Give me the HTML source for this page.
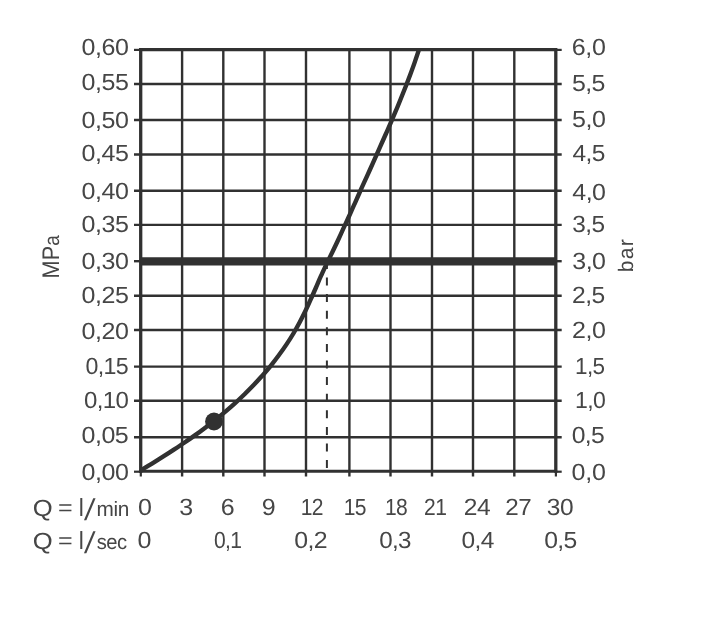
<!DOCTYPE html>
<html lang="en"><head><meta charset="utf-8"><title>Flow diagram</title>
<style>
html,body{margin:0;padding:0;background:#fff;}
svg{display:block;}
text{font-family:"Liberation Sans",sans-serif;fill:#464646;font-kerning:none;text-rendering:geometricPrecision;}
</style></head><body>
<svg width="707" height="630" viewBox="0 0 707 630">
<rect width="707" height="630" fill="#fff"/>

<g stroke="#313131" stroke-width="2.4" fill="none">
<line x1="182.10" y1="49.90" x2="182.10" y2="476.50"/>
<line x1="223.30" y1="49.90" x2="223.30" y2="476.50"/>
<line x1="264.50" y1="49.90" x2="264.50" y2="476.50"/>
<line x1="306.00" y1="49.90" x2="306.00" y2="476.50"/>
<line x1="349.40" y1="49.90" x2="349.40" y2="476.50"/>
<line x1="390.50" y1="49.90" x2="390.50" y2="476.50"/>
<line x1="432.00" y1="49.90" x2="432.00" y2="476.50"/>
<line x1="473.00" y1="49.90" x2="473.00" y2="476.50"/>
<line x1="514.30" y1="49.90" x2="514.30" y2="476.50"/>
<line x1="134.00" y1="84.00" x2="561.70" y2="84.00"/>
<line x1="134.00" y1="120.05" x2="561.70" y2="120.05"/>
<line x1="134.00" y1="154.50" x2="561.70" y2="154.50"/>
<line x1="134.00" y1="190.70" x2="561.70" y2="190.70"/>
<line x1="134.00" y1="224.90" x2="561.70" y2="224.90"/>
<line x1="134.00" y1="295.70" x2="561.70" y2="295.70"/>
<line x1="134.00" y1="330.05" x2="561.70" y2="330.05"/>
<line x1="134.00" y1="366.60" x2="561.70" y2="366.60"/>
<line x1="134.00" y1="400.70" x2="561.70" y2="400.70"/>
<line x1="134.00" y1="437.20" x2="561.70" y2="437.20"/>
</g>
<g stroke="#313131" fill="none">
<line x1="139.00" y1="49.60" x2="557.10" y2="49.60" stroke-width="3.1"/>
<line x1="139.00" y1="471.30" x2="557.10" y2="471.30" stroke-width="3.0"/>
<line x1="140.70" y1="48.30" x2="140.70" y2="472.70" stroke-width="3.3"/>
<line x1="555.80" y1="48.30" x2="555.80" y2="472.70" stroke-width="3.3"/>
<line x1="134.00" y1="49.90" x2="140.50" y2="49.90" stroke-width="2.2"/>
<line x1="555.60" y1="49.90" x2="561.70" y2="49.90" stroke-width="2.2"/>
<line x1="134.00" y1="471.70" x2="140.50" y2="471.70" stroke-width="2.2"/>
<line x1="555.60" y1="471.70" x2="561.70" y2="471.70" stroke-width="2.2"/>
<line x1="140.80" y1="471.30" x2="140.80" y2="476.50" stroke-width="2.2"/>
<line x1="555.90" y1="471.30" x2="555.90" y2="476.50" stroke-width="2.2"/>
<line x1="134.00" y1="261.20" x2="140.50" y2="261.20" stroke-width="2.4"/>
<line x1="555.60" y1="261.20" x2="561.70" y2="261.20" stroke-width="2.4"/>
<line x1="140.50" y1="261.40" x2="555.60" y2="261.40" stroke-width="8.3"/>
<line x1="326.9" y1="260.9" x2="326.9" y2="471" stroke-width="2.0" stroke-dasharray="8 8.6"/>
<clipPath id="plot"><rect x="140.50" y="49.50" width="415.10" height="423.20"/></clipPath>
<path d="M137.6 472.4 C138.2 472.0 138.6 471.8 141.0 470.3 C143.4 468.8 148.3 465.9 152.0 463.6 C155.7 461.3 159.3 459.0 163.0 456.7 C166.7 454.4 170.3 452.1 173.9 449.7 C177.5 447.3 181.1 444.9 184.6 442.5 C188.1 440.1 191.7 437.6 195.2 435.1 C198.7 432.6 202.2 430.0 205.6 427.4 C209.0 424.8 212.3 422.2 215.7 419.5 C219.0 416.8 222.4 414.2 225.7 411.4 C229.0 408.6 232.2 405.8 235.4 402.9 C238.6 400.0 241.7 397.0 244.8 394.0 C247.9 391.0 250.9 387.9 253.9 384.8 C256.9 381.7 259.8 378.4 262.7 375.2 C265.6 371.9 268.4 368.7 271.1 365.3 C273.8 361.9 276.4 358.5 279.0 355.0 C281.6 351.5 284.1 348.0 286.5 344.4 C288.9 340.8 291.2 337.2 293.4 333.5 C295.6 329.8 297.7 326.1 299.7 322.3 C301.7 318.5 303.6 314.7 305.5 310.8 C307.4 306.9 309.1 303.1 310.8 299.2 C312.6 295.3 314.3 291.4 316.0 287.5 C317.7 283.6 319.3 279.6 321.1 275.7 C322.9 271.8 324.7 267.8 326.6 263.9 C328.5 260.0 330.4 256.1 332.3 252.2 C334.2 248.3 336.1 244.4 337.9 240.5 C339.7 236.6 341.5 232.6 343.3 228.7 C345.1 224.8 346.9 220.9 348.7 217.0 C350.5 213.1 352.2 209.1 354.0 205.2 C355.8 201.3 357.4 197.4 359.2 193.5 C360.9 189.6 362.7 185.6 364.5 181.7 C366.3 177.8 368.0 173.9 369.8 170.0 C371.6 166.1 373.4 162.1 375.1 158.2 C376.9 154.2 378.6 150.2 380.3 146.3 C382.1 142.4 383.9 138.4 385.6 134.5 C387.4 130.6 389.1 126.6 390.8 122.6 C392.5 118.6 394.2 114.7 395.9 110.7 C397.6 106.7 399.2 102.7 400.8 98.7 C402.4 94.7 404.0 90.7 405.6 86.7 C407.2 82.7 408.7 78.7 410.2 74.7 C411.7 70.7 413.2 66.7 414.6 62.6 C416.0 58.5 417.8 53.2 418.7 50.4 C419.6 47.6 419.9 46.5 420.2 45.7" stroke-width="4.4" stroke-linecap="butt" clip-path="url(#plot)"/>
</g>
<circle cx="214.0" cy="421.5" r="8.9" fill="#313131"/>
<g font-size="23.4">
<text transform="translate(81.62 55.45) scale(1.070 1)" letter-spacing="-0.43">0,60</text>
<text transform="translate(81.62 90.35) scale(1.070 1)" letter-spacing="-0.41">0,55</text>
<text transform="translate(81.62 128.05) scale(1.070 1)" letter-spacing="-0.43">0,50</text>
<text transform="translate(81.62 161.35) scale(1.070 1)" letter-spacing="-0.41">0,45</text>
<text transform="translate(81.62 199.15) scale(1.070 1)" letter-spacing="-0.43">0,40</text>
<text transform="translate(81.62 232.35) scale(1.070 1)" letter-spacing="-0.41">0,35</text>
<text transform="translate(81.62 269.35) scale(1.070 1)" letter-spacing="-0.43">0,30</text>
<text transform="translate(81.62 303.05) scale(1.070 1)" letter-spacing="-0.41">0,25</text>
<text transform="translate(81.62 338.55) scale(1.070 1)" letter-spacing="-0.43">0,20</text>
<text transform="translate(85.39 374.15) scale(0.992 1)" letter-spacing="-0.60">0,15</text>
<text transform="translate(83.96 408.25) scale(1.027 1)" letter-spacing="-0.58">0,10</text>
<text transform="translate(81.62 443.35) scale(1.070 1)" letter-spacing="-0.50">0,05</text>
<text transform="translate(81.62 479.55) scale(1.070 1)" letter-spacing="-0.43">0,00</text>
<text transform="translate(571.63 55.35) scale(1.070 1)" letter-spacing="-0.26">6,0</text>
<text transform="translate(571.90 91.05) scale(1.065 1)" letter-spacing="-0.56">5,5</text>
<text transform="translate(571.90 127.45) scale(1.070 1)" letter-spacing="-0.39">5,0</text>
<text transform="translate(572.44 160.85) scale(1.048 1)" letter-spacing="-0.57">4,5</text>
<text transform="translate(572.33 200.25) scale(1.068 1)" letter-spacing="-0.56">4,0</text>
<text transform="translate(572.37 232.45) scale(1.044 1)" letter-spacing="-0.57">3,5</text>
<text transform="translate(572.35 269.15) scale(1.068 1)" letter-spacing="-0.56">3,0</text>
<text transform="translate(572.06 302.95) scale(1.054 1)" letter-spacing="-0.57">2,5</text>
<text transform="translate(572.04 338.45) scale(1.070 1)" letter-spacing="-0.45">2,0</text>
<text transform="translate(574.99 373.65) scale(0.961 1)" letter-spacing="-0.62">1,5</text>
<text transform="translate(574.94 408.05) scale(0.985 1)" letter-spacing="-0.61">1,0</text>
<text transform="translate(571.63 442.65) scale(1.058 1)" letter-spacing="-0.57">0,5</text>
<text transform="translate(571.62 480.05) scale(1.070 1)" letter-spacing="-0.21">0,0</text>
<text transform="translate(137.89 514.90) scale(1.070 1)">0</text>
<text transform="translate(179.31 514.90) scale(1.070 1)">3</text>
<text transform="translate(220.65 514.90) scale(1.070 1)">6</text>
<text transform="translate(261.74 514.90) scale(1.070 1)">9</text>
<text transform="translate(300.66 514.90) scale(0.900 1)" letter-spacing="-0.67">12</text>
<text transform="translate(343.73 514.90) scale(0.900 1)" letter-spacing="-0.67">15</text>
<text transform="translate(384.94 514.90) scale(0.900 1)" letter-spacing="-0.67">18</text>
<text transform="translate(424.12 514.90) scale(0.900 1)" letter-spacing="-0.67">21</text>
<text transform="translate(463.86 514.90) scale(1.051 1)" letter-spacing="-0.57">24</text>
<text transform="translate(505.28 514.90) scale(1.035 1)" letter-spacing="-0.58">27</text>
<text transform="translate(546.87 514.90) scale(1.049 1)" letter-spacing="-0.57">30</text>
<text transform="translate(137.59 548.20) scale(1.070 1)">0</text>
<text transform="translate(214.01 548.20) scale(0.900 1)" letter-spacing="-0.67">0,1</text>
<text transform="translate(294.13 548.20) scale(1.064 1)" letter-spacing="-0.56">0,2</text>
<text transform="translate(379.16 548.20) scale(1.033 1)" letter-spacing="-0.58">0,3</text>
<text transform="translate(461.44 548.20) scale(1.048 1)" letter-spacing="-0.57">0,4</text>
<text transform="translate(544.13 548.20) scale(1.058 1)" letter-spacing="-0.57">0,5</text>
<text transform="translate(32.79 515.70) scale(1.100 1)" font-size="23.3">Q</text>
<text transform="translate(58.07 515.10) scale(1.141 1)" font-size="22.0">=</text>
<text transform="translate(78.66 515.70) scale(0.920 1)" font-size="24.8">l</text>
<text transform="translate(83.90 519.60) skewX(-8.5)" font-size="30">/</text>
<text transform="translate(96.42 515.70) scale(1.000 1)" letter-spacing="-0.29" font-size="20.8">min</text>
<text transform="translate(32.79 548.80) scale(1.100 1)" font-size="23.3">Q</text>
<text transform="translate(58.07 548.20) scale(1.141 1)" font-size="22.0">=</text>
<text transform="translate(78.66 548.80) scale(0.920 1)" font-size="24.8">l</text>
<text transform="translate(83.90 552.70) skewX(-8.5)" font-size="30">/</text>
<text transform="translate(96.74 548.80) scale(0.973 1)" letter-spacing="-0.62" font-size="20.8">sec</text>
<text transform="translate(58.8 276.6) rotate(-90) scale(0.904 1)" font-size="24"><tspan x="-1.97">MP</tspan><tspan font-size="21">a</tspan></text>
<text transform="translate(632.80 271.00) rotate(-90) translate(-1.35 0) scale(1.000 1)" font-size="21.0" letter-spacing="1.33">bar</text>
</g>
</svg></body></html>
